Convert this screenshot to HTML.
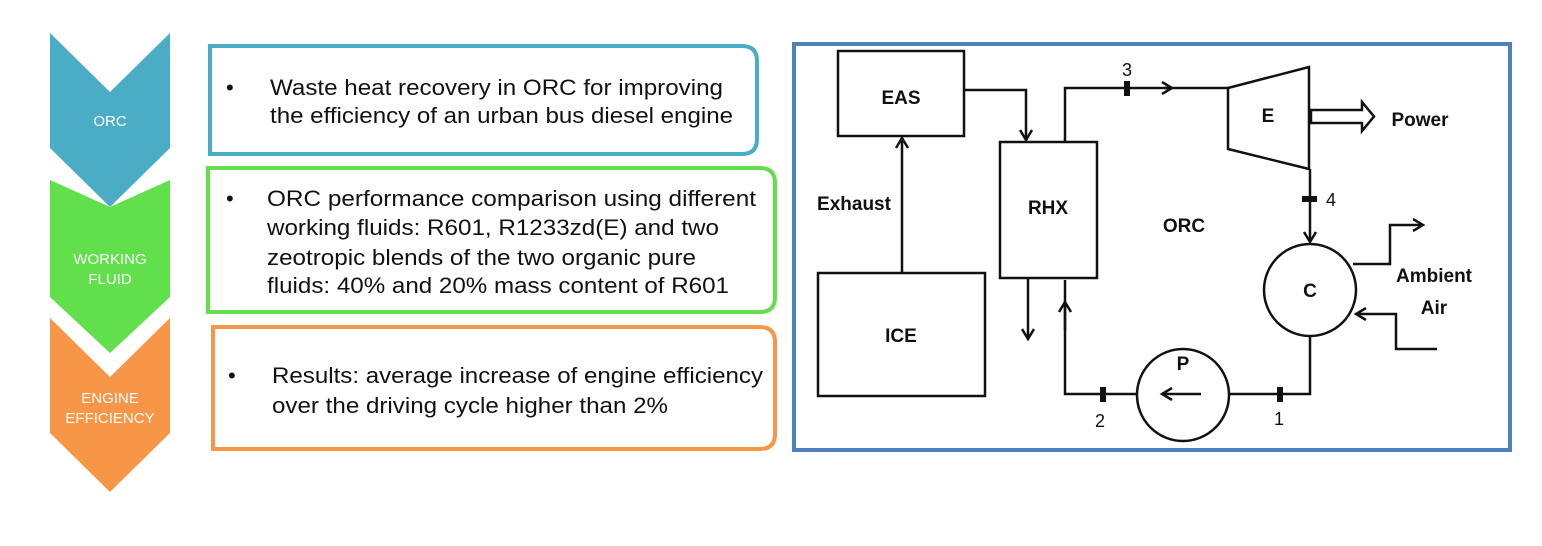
<!DOCTYPE html>
<html><head><meta charset="utf-8"><style>
html,body{margin:0;padding:0;background:#fff;}
svg{display:block;}
.t{font-family:"Liberation Sans",sans-serif;font-size:22px;fill:#111;}
.c{font-family:"Liberation Sans",sans-serif;font-size:15px;fill:#fff;text-anchor:middle;}
.b{font-family:"Liberation Sans",sans-serif;font-size:19px;font-weight:bold;fill:#111;text-anchor:middle;}
.n{font-family:"Liberation Sans",sans-serif;font-size:18px;fill:#111;text-anchor:middle;}
</style></head><body>
<svg width="1542" height="546" viewBox="0 0 1542 546" xmlns="http://www.w3.org/2000/svg">
<defs>
<marker id="ar" markerWidth="14" markerHeight="14" refX="11" refY="7" orient="auto" markerUnits="userSpaceOnUse">
<path d="M1,1 L11,7 L1,13" fill="none" stroke="#111" stroke-width="2.5"/>
</marker>
</defs>
<polygon points="50,33 110,92 170,33 170,148 110,207 50,148" fill="#4BACC6"/>
<polygon points="50,180 110,207 170,180 170,297 110,353 50,297" fill="#62E04C"/>
<polygon points="50,318 110,377 170,318 170,433 110,492 50,433" fill="#F79646"/>
<text class="c" x="110" y="126">ORC</text>
<text class="c" x="110" y="264">WORKING</text>
<text class="c" x="110" y="284">FLUID</text>
<text class="c" x="110" y="403">ENGINE</text>
<text class="c" x="110" y="423">EFFICIENCY</text>
<path d="M210,46 H742 Q757,46 757,61 V139 Q757,154 742,154 H210 Z" fill="#fff" stroke="#4BACC6" stroke-width="4"/>
<path d="M208,168 H760 Q775,168 775,183 V297 Q775,312 760,312 H208 Z" fill="#fff" stroke="#62E04C" stroke-width="4"/>
<path d="M213,327 H760 Q775,327 775,342 V434 Q775,449 760,449 H213 Z" fill="#fff" stroke="#F79646" stroke-width="4"/>
<g class="t">
<text x="226" y="95">•</text>
<text x="270" y="95" textLength="453" lengthAdjust="spacingAndGlyphs">Waste heat recovery in ORC for improving</text>
<text x="270" y="123" textLength="463" lengthAdjust="spacingAndGlyphs">the efficiency of an urban bus diesel engine</text>
<text x="226" y="206">•</text>
<text x="267" y="206" textLength="489" lengthAdjust="spacingAndGlyphs">ORC performance comparison using different</text>
<text x="267" y="235" textLength="452" lengthAdjust="spacingAndGlyphs">working fluids: R601, R1233zd(E) and two</text>
<text x="267" y="265" textLength="429" lengthAdjust="spacingAndGlyphs">zeotropic blends of the two organic pure</text>
<text x="267" y="293" textLength="462" lengthAdjust="spacingAndGlyphs">fluids: 40% and 20% mass content of R601</text>
<text x="228" y="383">•</text>
<text x="272" y="383" textLength="491" lengthAdjust="spacingAndGlyphs">Results: average increase of engine efficiency</text>
<text x="272" y="413" textLength="396" lengthAdjust="spacingAndGlyphs">over the driving cycle higher than 2%</text>
</g>
<rect x="794" y="44" width="716" height="406" fill="#fff" stroke="#4F81BD" stroke-width="4"/>
<g fill="none" stroke="#111" stroke-width="2.5">
<rect x="838" y="51" width="126" height="85" fill="#fff"/>
<rect x="818" y="273" width="167" height="123" fill="#fff"/>
<rect x="1000" y="142" width="97" height="136" fill="#fff"/>
<line x1="902" y1="273" x2="902" y2="138" marker-end="url(#ar)"/>
<polyline points="964,90 1026,90 1026,140" marker-end="url(#ar)"/>
<polyline points="1065,142 1065,88 1172,88" marker-end="url(#ar)"/>
<line x1="1165" y1="88" x2="1228" y2="88"/>
<polygon points="1228,88 1309,67 1309,169 1228,149"/>
<polygon points="1311,110 1362,110 1362,102 1374,116.5 1362,131 1362,123 1311,123" fill="#fff"/>
<line x1="1310" y1="169" x2="1310" y2="242" marker-end="url(#ar)"/>
<ellipse cx="1310" cy="290" rx="46" ry="46"/>
<polyline points="1353,264 1390,264 1390,225 1423,225" marker-end="url(#ar)"/>
<polyline points="1437,349 1396,349 1396,314 1356,314" marker-end="url(#ar)"/>
<polyline points="1310,336 1310,394 1229,394"/>
<circle cx="1183" cy="395" r="46"/>
<line x1="1201" y1="394" x2="1162" y2="394" marker-end="url(#ar)"/>
<polyline points="1137,394 1065,394 1065,280" />
<line x1="1065" y1="330" x2="1065" y2="302" marker-end="url(#ar)"/>
<line x1="1028" y1="278" x2="1028" y2="339" marker-end="url(#ar)"/>
</g>
<g fill="#111">
<rect x="1124" y="81" width="6" height="15"/>
<rect x="1302" y="196" width="15" height="6"/>
<rect x="1277" y="387" width="6" height="15"/>
<rect x="1100" y="387" width="6" height="15"/>
</g>
<text class="b" x="901" y="104">EAS</text>
<text class="b" x="901" y="342">ICE</text>
<text class="b" x="1048" y="214">RHX</text>
<text class="b" x="854" y="210">Exhaust</text>
<text class="b" x="1268" y="122">E</text>
<text class="b" x="1184" y="232">ORC</text>
<text class="b" x="1310" y="297">C</text>
<text class="b" x="1183" y="370">P</text>
<text class="b" x="1420" y="126">Power</text>
<text class="b" x="1434" y="282">Ambient</text>
<text class="b" x="1434" y="314">Air</text>
<text class="n" x="1127" y="76">3</text>
<text class="n" x="1331" y="206">4</text>
<text class="n" x="1279" y="425">1</text>
<text class="n" x="1100" y="427">2</text>
</svg>
</body></html>
